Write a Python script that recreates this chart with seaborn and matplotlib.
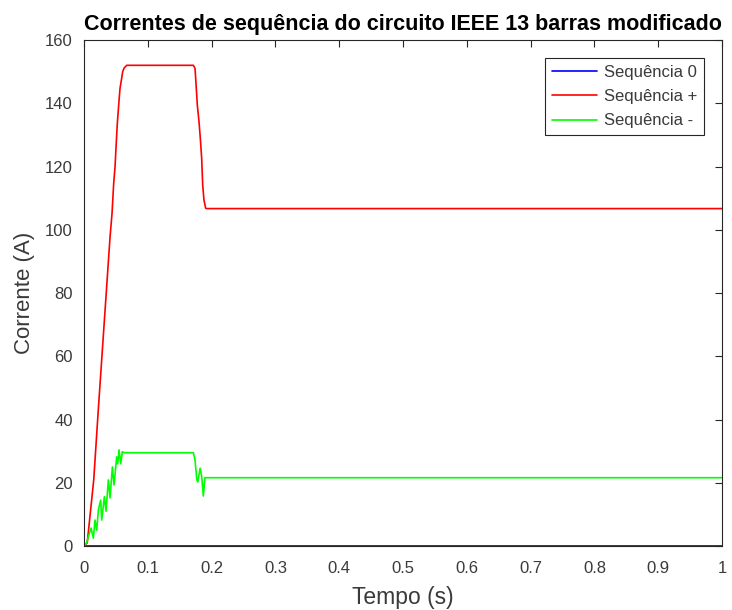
import numpy as np
import pandas as pd
import seaborn as sns
import matplotlib
matplotlib.use('Agg')
import matplotlib.pyplot as plt

# sequence currents (time in s, current in A)
t_zero = [0.0, 1.0]
i_zero = [0.0, 0.0]

t_pos = [0.0, 0.005, 0.0152, 0.022, 0.0408, 0.0439, 0.0465, 0.0486, 0.0502, 0.0522,
         0.0549, 0.0564, 0.059, 0.0606, 0.0627, 0.0669, 0.1714, 0.174, 0.1755, 0.1776,
         0.1802, 0.1823, 0.1844, 0.186, 0.188, 0.1907, 0.1923, 1.0]
i_pos = [0.0, 1.0, 20.9, 42.0, 97.8, 105.2, 114.7, 119.9, 126.3, 133.7,
         141.0, 144.7, 147.9, 150.0, 151.1, 152.0, 152.0, 151.0, 146.3, 139.4,
         134.2, 128.9, 122.6, 114.2, 109.4, 106.8, 106.7, 106.7]

t_neg = [0.0, 0.004, 0.011, 0.0146, 0.0172, 0.0199, 0.0225, 0.0261, 0.0277, 0.0319,
         0.0345, 0.0381, 0.0408, 0.0444, 0.047, 0.0512, 0.0528, 0.0549, 0.0575, 0.06,
         0.0632, 0.1714, 0.174, 0.1768, 0.1783, 0.182, 0.1845, 0.187, 0.1895, 0.192, 1.0]
i_neg = [0.0, 1.0, 5.7, 2.5, 8.2, 5.0, 11.5, 14.5, 8.2, 15.6,
         11.0, 20.9, 15.2, 25.0, 19.3, 28.2, 26.0, 30.4, 26.0, 29.8,
         29.5, 29.5, 27.2, 20.9, 20.3, 24.6, 21.9, 15.8, 21.6, 21.6, 21.6]

labels = ['Sequência 0', 'Sequência +', 'Sequência -']
colors = ['#0000ff', '#ff0000', '#00ff00']

frames = []
for lab, t, i in zip(labels, [t_zero, t_pos, t_neg], [i_zero, i_pos, i_neg]):
    frames.append(pd.DataFrame({'Tempo': t, 'Corrente': i, 'serie': lab}))
df = pd.concat(frames, ignore_index=True)

sns.set_style('white')
plt.rcParams['font.family'] = ['Liberation Sans', 'DejaVu Sans']

fig = plt.figure(figsize=(7.32, 6.1), dpi=100)
ax = fig.add_axes([0.1148, 0.1049, 0.8715, 0.8295])

sns.lineplot(data=df, x='Tempo', y='Corrente', hue='serie', palette=colors,
             estimator=None, sort=False, linewidth=1.2, ax=ax)

ax.set_xlim(0, 1)
ax.set_ylim(0, 160)
ax.set_xticks(np.arange(0, 1.01, 0.1))
ax.set_xticklabels(['0', '0.1', '0.2', '0.3', '0.4', '0.5', '0.6', '0.7', '0.8', '0.9', '1'])
ax.set_yticks(np.arange(0, 161, 20))

gray = '#262626'
txtgray = '#3a3a3a'
for s in ax.spines.values():
    s.set_color(gray)
    s.set_linewidth(0.8)
ax.tick_params(direction='in', length=5, width=0.8, top=True, right=True,
               colors=gray, labelcolor=txtgray, labelsize=12)
ax.tick_params(axis='x', pad=11)
ax.tick_params(axis='y', pad=8)

ax.set_xlabel('Tempo (s)', fontsize=16.5, color=txtgray, labelpad=7)
ax.set_ylabel('Corrente (A)', fontsize=16, color=txtgray, labelpad=7)
ax.set_title('Correntes de sequência do circuito IEEE 13 barras modificado',
             fontsize=15.5, fontweight='bold', color='black', pad=7)

leg = ax.legend(loc='upper right', fontsize=12, frameon=True, fancybox=False,
                framealpha=1, edgecolor=gray, handlelength=2.7,
                handletextpad=0.4, borderpad=0.4,
                borderaxespad=1.1, labelspacing=0.55)
leg.get_frame().set_linewidth(0.8)
for txt in leg.get_texts():
    txt.set_color(txtgray)

fig.savefig('out.png', dpi=100)
